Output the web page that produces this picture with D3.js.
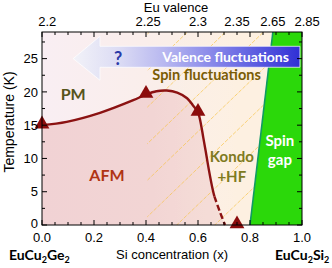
<!DOCTYPE html>
<html><head><meta charset="utf-8">
<script src="https://cdn.jsdelivr.net/npm/d3@7"></script>
<style>body{margin:0;background:#fff}svg{display:block}</style>
</head><body><svg id="c" width="332" height="268"></svg>
<script>
// ---- data ----
const xTicks = [0, 0.2, 0.4, 0.6, 0.8, 1.0];
const yTicks = [0, 5, 10, 15, 20, 25];
const valenceLabels = ["2.2", "2.25", "2.3", "2.35", "2.65", "2.85"];
const valenceX = [0.02, 0.408, 0.6, 0.75, 0.888, 1.02];
const tnSolidX = [0, 0.095, 0.223, 0.351, 0.4, 0.44, 0.48, 0.52, 0.558, 0.58, 0.6, 0.612, 0.62, 0.63, 0.642, 0.657, 0.663];
const tnSolidT = [15, 15.5, 16.85, 18.75, 19.6, 20.1, 20.2, 19.9, 19.05, 18.0, 16.9, 15.0, 13.2, 11.0, 8.25, 5.25, 4.3];
const tnDashedX = [0.663, 0.684, 0.704];
const tnDashedT = [4.3, 2.0, 0];
const markerX = [0, 0.4, 0.6, 0.75];
const markerT = [15, 19.6, 16.9, 0];
const gapEdgeX = [0.8, 0.888];
const gapEdgeT = [0, 29];

// ---- layout ----
const svg = d3.select("#c");
const L = 42, T = 32, W = 260, H = 193;
const x = d3.scaleLinear().domain([0, 1]).range([L, L + W]);
const y = d3.scaleLinear().domain([0, 29]).range([T + H, T]);
const axisFont = "'Liberation Sans', Arial, sans-serif";
const boldFont = "Lato, 'Open Sans', sans-serif";

const defs = svg.append("defs");
function grad(id, stops, x1, x2) {
  const g = defs.append("linearGradient").attr("id", id)
    .attr("gradientUnits", "userSpaceOnUse")
    .attr("x1", x1).attr("x2", x2).attr("y1", 0).attr("y2", 0);
  stops.forEach(s => g.append("stop").attr("offset", s[0]).attr("stop-color", s[1]));
}
grad("bgG", [[0, "#f9eef3"], [0.4, "#faeeeb"], [0.75, "#fdf0e2"], [1, "#fdf1e0"]], x(0), x(1));
grad("afmG", [[0, "#f1d2d4"], [0.6, "#f2d5d4"], [1, "#f6dfd8"]], x(0), x(0.71));
grad("arrG", [[0, "#f2f2f8"], [0.2, "#dcdcf4"], [0.4, "#b8b8f0"], [0.65, "#8080e8"], [1, "#3030d6"]], x(0.12), x(0.992));
defs.append("clipPath").attr("id", "plotClip").append("rect")
  .attr("x", L).attr("y", T).attr("width", W).attr("height", H);
defs.append("clipPath").attr("id", "hatchClip").append("path")
  .attr("d", d3.line()([[x(0.405), y(0)], [x(gapEdgeX[0]), y(gapEdgeT[0])], [x(gapEdgeX[1]), y(gapEdgeT[1])], [x(0.405), y(29)]]) + "Z");

const plot = svg.append("g").attr("clip-path", "url(#plotClip)");
plot.append("rect").attr("x", L).attr("y", T).attr("width", W).attr("height", H).attr("fill", "url(#bgG)");

// AFM area
const solid = tnSolidX.map((v, i) => [v, tnSolidT[i]]);
const dashed = tnDashedX.map((v, i) => [v, tnDashedT[i]]);
const allPts = solid.concat(dashed.slice(1));
const lineGen = d3.line().x(d => x(d[0])).y(d => y(d[1])).curve(d3.curveCatmullRom.alpha(0.5));
plot.append("path")
  .attr("d", lineGen(allPts) + `L${x(0)},${y(0)}Z`)
  .attr("fill", "url(#afmG)");

// hatch lines
const hatch = plot.append("g").attr("clip-path", "url(#hatchClip)");
for (let c = -300; c < 700; c += 38) {
  hatch.append("line")
    .attr("x1", c).attr("y1", T + H + 20)
    .attr("x2", c + 260).attr("y2", T + H + 20 - 250)
    .attr("stroke", "#f7c23e").attr("stroke-width", 0.8)
    .attr("stroke-dasharray", "4,1.5").attr("opacity", 0.8);
}

// spin gap region
plot.append("path")
  .attr("d", d3.line()([[x(gapEdgeX[0]), y(gapEdgeT[0])], [x(gapEdgeX[1]), y(gapEdgeT[1])], [x(1), y(29)], [x(1), y(0)]]) + "Z")
  .attr("fill", "#2bd80a");
plot.append("line")
  .attr("x1", x(gapEdgeX[0])).attr("y1", y(gapEdgeT[0]))
  .attr("x2", x(gapEdgeX[1])).attr("y2", y(gapEdgeT[1]))
  .attr("stroke", "#109a64").attr("stroke-width", 1.6);

// valence arrow
const arrowPts = [[0.12, 25.0], [0.223, 28.35], [0.223, 26.85], [0.992, 26.85], [0.992, 23.7], [0.223, 23.7], [0.223, 21.75]];
svg.append("path")
  .attr("d", d3.line().x(d => x(d[0])).y(d => y(d[1]))(arrowPts) + "Z")
  .attr("fill", "url(#arrG)").attr("stroke", "#ffffff").attr("stroke-opacity", 0.7).attr("stroke-width", 1);
svg.append("text").attr("x", x(0.293)).attr("y", y(25.05)).attr("dy", "0.36em")
  .attr("text-anchor", "middle").attr("font-family", boldFont).attr("font-weight", 700)
  .attr("font-size", 18).attr("fill", "#2a3aa8").text("?");
svg.append("text").attr("x", x(0.706)).attr("y", y(25.2)).attr("dy", "0.36em")
  .attr("text-anchor", "middle").attr("font-family", boldFont).attr("font-weight", 700)
  .attr("font-size", 14).attr("fill", "#ffffff").text("Valence fluctuations");

// curves
svg.append("path").attr("d", lineGen(solid)).attr("fill", "none")
  .attr("stroke", "#8b1212").attr("stroke-width", 2.4);
svg.append("path").attr("d", lineGen(dashed)).attr("fill", "none")
  .attr("stroke", "#8b1212").attr("stroke-width", 2.4).attr("stroke-dasharray", "6,3");

// markers
const tri = d3.symbol().type(d3.symbolTriangle).size(95);
markerX.forEach((v, i) => {
  svg.append("path").attr("d", tri())
    .attr("transform", `translate(${x(v)},${y(markerT[i]) - 1})`)
    .attr("fill", "#8b0c0c");
});

// labels
function lab(txt, px, py, size, color, weight) {
  svg.append("text").attr("x", px).attr("y", py).attr("dy", "0.36em")
    .attr("text-anchor", "middle").attr("font-family", boldFont)
    .attr("font-weight", weight || 700).attr("font-size", size).attr("fill", color).text(txt);
}
lab("Spin fluctuations", x(0.633), y(22.6), 14.5, "#7a5c04");
lab("PM", x(0.12), y(19.6), 16, "#56541a");
lab("AFM", x(0.25), y(7.5), 16, "#b03414");
lab("Kondo", x(0.73), y(10.3), 15, "#7e7a1e");
lab("+HF", x(0.73), y(7.3), 15, "#7e7a1e");
lab("Spin", x(0.915), y(12.7), 15, "#ffffff");
lab("gap", x(0.915), y(9.8), 15, "#ffffff");

// axes frame
const ax = svg.append("g").attr("stroke", "#000").attr("stroke-width", 1);
ax.append("rect").attr("x", L).attr("y", T).attr("width", W).attr("height", H).attr("fill", "none");
d3.range(0, 1.0001, 0.05).forEach(v => {
  const major = Math.abs(v * 5 - Math.round(v * 5)) < 1e-6;
  const len = major ? 5 : 3;
  ax.append("line").attr("x1", x(v)).attr("x2", x(v)).attr("y1", T + H).attr("y2", T + H - len);
  ax.append("line").attr("x1", x(v)).attr("x2", x(v)).attr("y1", T).attr("y2", T + len);
});
d3.range(0, 29, 2.5).forEach(v => {
  const major = v % 5 === 0;
  const len = major ? 5 : 3;
  ax.append("line").attr("x1", L).attr("x2", L + len).attr("y1", y(v)).attr("y2", y(v));
  ax.append("line").attr("x1", L + W).attr("x2", L + W - len).attr("y1", y(v)).attr("y2", y(v));
});

// tick labels
xTicks.forEach(v => {
  svg.append("text").attr("x", x(v)).attr("y", 242).attr("text-anchor", "middle")
    .attr("font-family", axisFont).attr("font-size", 13).attr("fill", "#000").text(v.toFixed(1));
});
yTicks.forEach(v => {
  svg.append("text").attr("x", L - 4).attr("y", y(v) - (v === 0 ? 2 : 0)).attr("dy", "0.36em").attr("text-anchor", "end")
    .attr("font-family", axisFont).attr("font-size", 13).attr("fill", "#000").text(v);
});
valenceLabels.forEach((t, i) => {
  svg.append("text").attr("x", x(valenceX[i])).attr("y", 25.5).attr("text-anchor", "middle")
    .attr("font-family", axisFont).attr("font-size", 13).attr("fill", "#000").text(t);
});
svg.append("text").attr("x", 176).attr("y", 11.5).attr("text-anchor", "middle")
  .attr("font-family", axisFont).attr("font-size", 13).attr("fill", "#000").text("Eu valence");
svg.append("text").attr("x", 172).attr("y", 259).attr("text-anchor", "middle")
  .attr("font-family", axisFont).attr("font-size", 13).attr("fill", "#000").text("Si concentration (x)");
svg.append("text").attr("transform", "translate(14,122) rotate(-90)").attr("text-anchor", "middle")
  .attr("font-family", axisFont).attr("font-size", 14).attr("fill", "#000").text("Temperature (K)");

function formula(px, parts) {
  const t = svg.append("text").attr("x", px).attr("y", 260).attr("font-family", boldFont)
    .attr("font-weight", 700).attr("font-size", 14).attr("fill", "#000");
  let sub = false;
  parts.forEach(p => {
    if (p === "2") { t.append("tspan").attr("font-size", 9).attr("dy", 3).text("2"); sub = true; }
    else { t.append("tspan").attr("dy", sub ? -3 : 0).text(p); sub = false; }
  });
}
formula(9, ["EuCu", "2", "Ge", "2"]);
formula(275, ["EuCu", "2", "Si", "2"]);
</script></body></html>
